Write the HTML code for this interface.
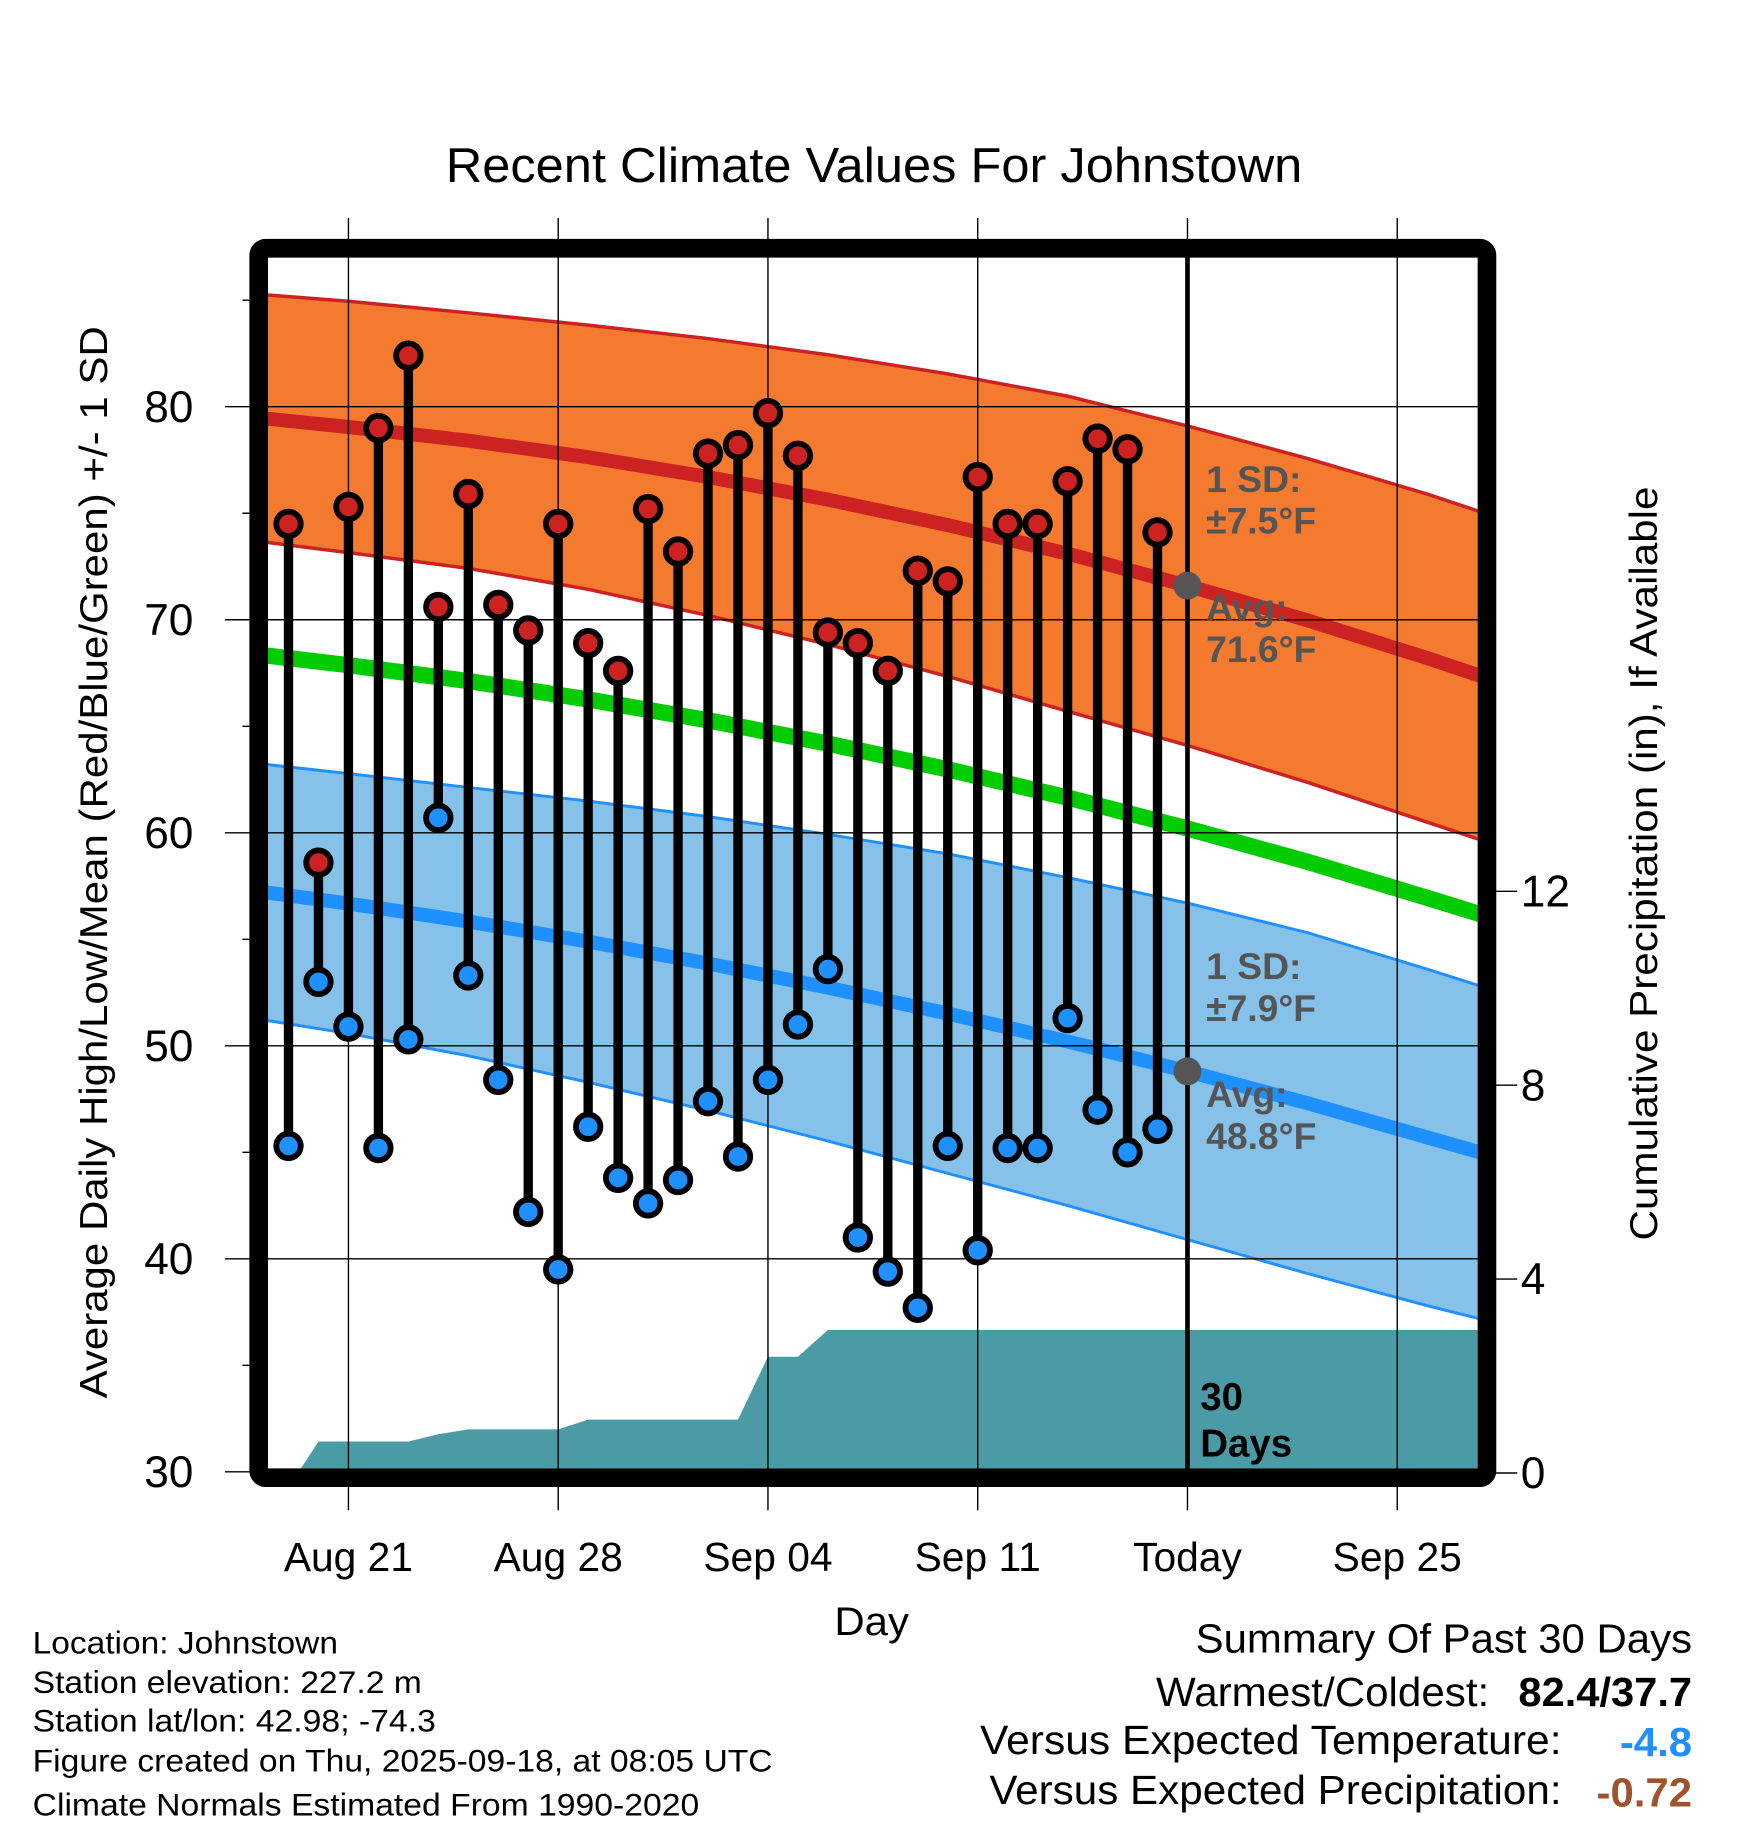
<!DOCTYPE html>
<html><head><meta charset="utf-8"><style>
html,body{margin:0;padding:0;background:#fff;}
svg{display:block;font-family:"Liberation Sans",Arial,sans-serif;}
</style></head><body>
<svg id="chart" width="1748" height="1828" viewBox="0 0 1500 1568.6" xmlns="http://www.w3.org/2000/svg">
<defs><clipPath id="plotclip"><rect x="230" y="220" width="1038" height="1040"/></clipPath></defs>
<rect width="1500" height="1568.6" fill="#fff"/>
<text x="750" y="156" font-size="42" text-anchor="middle" textLength="735" lengthAdjust="spacingAndGlyphs">Recent Climate Values For Johnstown</text>
<g id="plot" clip-path="url(#plotclip)"></g>
<g id="axes"></g>
<g id="marks"></g>
<rect x="222" y="213" width="1054" height="1055" fill="none" stroke="#000" stroke-width="16" rx="6"/>
<text x="748" y="1403" font-size="34" text-anchor="middle" textLength="64" lengthAdjust="spacingAndGlyphs">Day</text>
<text transform="translate(92,740) rotate(-90)" font-size="33" text-anchor="middle" textLength="920" lengthAdjust="spacingAndGlyphs">Average Daily High/Low/Mean (Red/Blue/Green) +/- 1 SD</text>
<text transform="translate(1422,741) rotate(-90)" font-size="33" text-anchor="middle" textLength="647" lengthAdjust="spacingAndGlyphs">Cumulative Precipitation (in), If Available</text>
<g font-size="27" lengthAdjust="spacingAndGlyphs">
<text x="28" y="1419" textLength="262" lengthAdjust="spacingAndGlyphs">Location: Johnstown</text>
<text x="28" y="1453" textLength="334" lengthAdjust="spacingAndGlyphs">Station elevation: 227.2 m</text>
<text x="28" y="1486" textLength="346" lengthAdjust="spacingAndGlyphs">Station lat/lon: 42.98; -74.3</text>
<text x="28" y="1520" textLength="635" lengthAdjust="spacingAndGlyphs">Figure created on Thu, 2025-09-18, at 08:05 UTC</text>
<text x="28" y="1558" textLength="572" lengthAdjust="spacingAndGlyphs">Climate Normals Estimated From 1990-2020</text>
</g>
<g font-size="35">
<text x="1026" y="1418" textLength="426" lengthAdjust="spacingAndGlyphs">Summary Of Past 30 Days</text>
<text x="992" y="1464" textLength="286" lengthAdjust="spacingAndGlyphs">Warmest/Coldest:</text>
<text x="1303" y="1464" font-weight="bold" textLength="149" lengthAdjust="spacingAndGlyphs">82.4/37.7</text>
<text x="841" y="1505" textLength="499" lengthAdjust="spacingAndGlyphs">Versus Expected Temperature:</text>
<text x="1390" y="1507" font-weight="bold" fill="#1e90ff" textLength="62" lengthAdjust="spacingAndGlyphs">-4.8</text>
<text x="849" y="1548" textLength="491" lengthAdjust="spacingAndGlyphs">Versus Expected Precipitation:</text>
<text x="1370" y="1550" font-weight="bold" fill="#a0522d" textLength="82" lengthAdjust="spacingAndGlyphs">-0.72</text>
</g>
</svg>
<script>
// ---- data ----
const obsDays = [-2,-1,0,1,2,3,4,5,6,7,8,9,10,11,12,13,14,15,16,17,18,19,20,21,22,23,24,25,26,27]; // days from Aug 21
const highs = [74.5,58.6,75.3,79.0,82.4,70.6,75.9,70.7,69.5,74.5,68.9,67.6,75.2,73.2,77.8,78.2,79.7,77.7,69.4,68.9,67.6,72.3,71.8,76.7,74.5,74.5,76.5,78.5,78.0,74.1];
const lows = [45.3,53.0,50.9,45.2,50.3,60.7,53.3,48.4,42.2,39.5,46.2,43.8,42.6,43.7,47.4,44.8,48.4,51.0,53.6,41.0,39.4,37.7,45.3,40.4,45.2,45.2,51.3,47.0,45.0,46.1];
const precip = [0,0.65,0.65,0.65,0.65,0.8,0.9,0.9,0.9,0.9,1.1,1.1,1.1,1.1,1.1,1.1,2.4,2.4,2.95,2.95,2.95,2.95,2.95,2.95,2.95,2.95,2.95,2.95,2.95,2.95];
const normDays = [-3,0,4,8,12,16,20,24,28,32,36,38];
const highMean = [79.48,79.05,78.41,77.63,76.7,75.64,74.44,73.1,71.6,69.97,68.2,67.26];
const lowMean = [57.25,56.68,55.83,54.89,53.86,52.73,51.51,50.2,48.8,47.31,45.7,44.9];
const highSD = [5.8,5.9,6.0,6.2,6.5,6.8,7.1,7.4,7.5,7.6,7.7,7.7];
const lowSD = [6.0,6.1,6.3,6.6,6.9,7.2,7.5,7.7,7.9,8.0,7.9,7.8];
const xTickDays = [0,7,14,21,28,35];
const xTickLabels = ["Aug 21","Aug 28","Sep 04","Sep 11","Today","Sep 25"];
const yTicks = [30,40,50,60,70,80];
const yMinor = [35,45,55,65,75,85];
const y2Ticks = [0,4,8,12];
const todayDay = 28;
const avgHigh = 71.6, avgLow = 48.8, sdHigh = 7.5, sdLow = 7.9;

// ---- scales ----
const X = d => 299 + d * (180/7);
const Y = v => 1263 - (v - 30) * 18.28;
const Y2 = p => 1264 - p * 41.6;
const NS = "http://www.w3.org/2000/svg";
function mk(tag, attrs, parent, txt){
  const e = document.createElementNS(NS, tag);
  for (const k in attrs) e.setAttribute(k, attrs[k]);
  if (txt !== undefined) e.textContent = txt;
  parent.appendChild(e); return e;
}
const plot = document.getElementById('plot');
const axes = document.getElementById('axes');
const marks = document.getElementById('marks');
const pts = (arr) => arr.map(p => p[0].toFixed(1)+','+p[1].toFixed(1)).join(' ');

// high band
const hu = normDays.map((d,i)=>[X(d),Y(highMean[i]+highSD[i])]);
const hl = normDays.map((d,i)=>[X(d),Y(highMean[i]-highSD[i])]);
let e = mk('polygon',{points:pts(hu.concat(hl.slice().reverse())),fill:'#f47a30'},plot);


e = mk('polyline',{points:pts(hu),fill:'none',stroke:'#cc2222','stroke-width':3},plot);


e = mk('polyline',{points:pts(hl),fill:'none',stroke:'#cc2222','stroke-width':3},plot);


// low band
const lu = normDays.map((d,i)=>[X(d),Y(lowMean[i]+lowSD[i])]);
const ll = normDays.map((d,i)=>[X(d),Y(lowMean[i]-lowSD[i])]);
e = mk('polygon',{points:pts(lu.concat(ll.slice().reverse())),fill:'#85c1e9'},plot);


e = mk('polyline',{points:pts(lu),fill:'none',stroke:'#1e90ff','stroke-width':2.5},plot);


e = mk('polyline',{points:pts(ll),fill:'none',stroke:'#1e90ff','stroke-width':2.5},plot);


// means
e = mk('polyline',{points:pts(normDays.map((d,i)=>[X(d),Y(highMean[i])])),fill:'none',stroke:'#cc2222','stroke-width':12},plot);


e = mk('polyline',{points:pts(normDays.map((d,i)=>[X(d),Y((highMean[i]+lowMean[i])/2)])),fill:'none',stroke:'#00cc00','stroke-width':14},plot);


e = mk('polyline',{points:pts(normDays.map((d,i)=>[X(d),Y(lowMean[i])])),fill:'none',stroke:'#1e90ff','stroke-width':12},plot);


// precip area (linear between days)
let pp = [[X(obsDays[0])+8, Y2(0)]];
for (let i=1;i<obsDays.length;i++){ pp.push([X(obsDays[i]),Y2(precip[i])]); }
pp.push([1270,Y2(precip[precip.length-1])]); pp.push([1270,Y2(0)+10]); pp.push([X(obsDays[0])+8,Y2(0)+10]);
e = mk('polygon',{points:pts(pp),fill:'#4a9ba5'},plot);



// gridlines & ticks
xTickDays.forEach((d,i)=>{
  const g = mk('line',{x1:X(d),x2:X(d),y1:187,y2:1296,stroke:'#000','stroke-width':1.2},axes);
  
  
  const t = mk('text',{x:X(d),y:1348,'font-size':35,'text-anchor':'middle'},axes,xTickLabels[i]);
  
  
});
yTicks.forEach(v=>{
  const g = mk('line',{x1:193,x2:v===30?222:1268,y1:Y(v),y2:Y(v),stroke:'#000','stroke-width':1.2},axes);
  
  
  const t = mk('text',{x:166,y:Y(v)+13,'font-size':38,'text-anchor':'end'},axes,String(v));
  
  
});
yMinor.forEach(v=>{
  const g = mk('line',{x1:208,x2:222,y1:Y(v),y2:Y(v),stroke:'#000','stroke-width':1.2},axes);
  
  
});
y2Ticks.forEach(p=>{
  const g = mk('line',{x1:1276,x2:1302,y1:Y2(p),y2:Y2(p),stroke:'#000','stroke-width':1.2},axes);
  
  
  const t = mk('text',{x:1305,y:Y2(p)+13,'font-size':38},axes,String(p));
  
  
});
// today line
e = mk('line',{x1:X(todayDay),x2:X(todayDay),y1:220,y2:1262,stroke:'#000','stroke-width':4},marks);



// stems & dots
obsDays.forEach((d,i)=>{
  const x = X(d);
  const s = mk('line',{x1:x,x2:x,y1:Y(highs[i]),y2:Y(lows[i]),stroke:'#000','stroke-width':8},marks);
  
  
});
obsDays.forEach((d,i)=>{
  const x = X(d);
  const h = mk('circle',{cx:x,cy:Y(highs[i]),r:10.5,fill:'#cc2222',stroke:'#000','stroke-width':5},marks);
  
  
  const l = mk('circle',{cx:x,cy:Y(lows[i]),r:10.5,fill:'#1e90ff',stroke:'#000','stroke-width':5},marks);
  
  
});
// avg markers
e = mk('circle',{cx:X(todayDay),cy:Y(avgHigh),r:12,fill:'#555'},marks);


e = mk('circle',{cx:X(todayDay),cy:Y(avgLow),r:12,fill:'#555'},marks);


// annotations
function ann(lines, y0, name){
  const g = mk('text',{x:1035,y:y0,'font-size':32,'font-weight':'bold',fill:'#555'},marks);
  
  
  lines.forEach((ln,k)=>{ mk('tspan',{x:1035,y:y0+k*36},g,ln); });
}
ann(['1 SD:','\u00B1'+sdHigh.toFixed(1)+'\u00B0F'], 422, 'high-sd-annotation');
ann(['Avg:',avgHigh.toFixed(1)+'\u00B0F'], 532, 'high-avg-annotation');
ann(['1 SD:','\u00B1'+sdLow.toFixed(1)+'\u00B0F'], 840, 'low-sd-annotation');
ann(['Avg:',avgLow.toFixed(1)+'\u00B0F'], 950, 'low-avg-annotation');
e = mk('text',{x:1030,y:1210,'font-size':33,'font-weight':'bold'},marks);


mk('tspan',{x:1030,y:1210},e,'30');
mk('tspan',{x:1030,y:1250},e,'Days');
</script>
</body></html>
